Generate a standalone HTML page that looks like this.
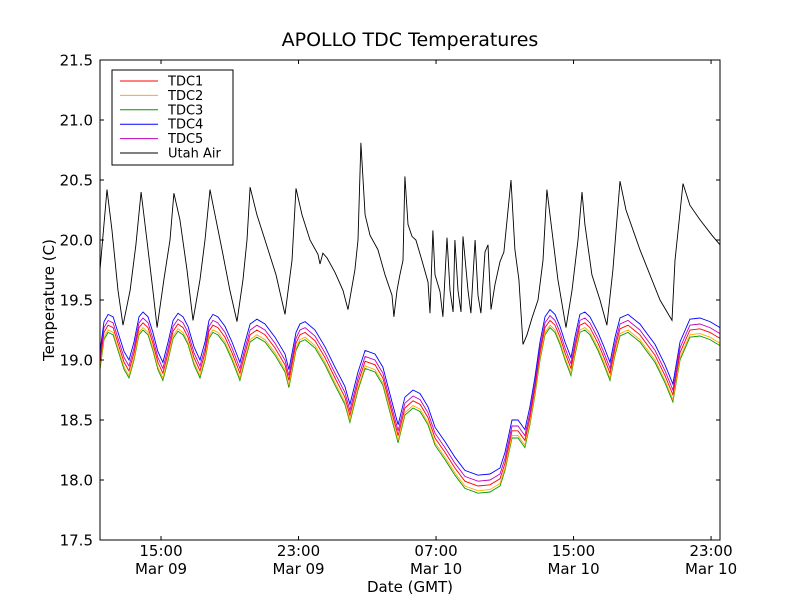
<!DOCTYPE html>
<html><head><meta charset="utf-8"><style>
body{margin:0;background:#fff}
svg text{font-family:"DejaVu Sans","Liberation Sans",sans-serif}
</style></head><body>
<svg id="chart" width="800" height="600" xmlns="http://www.w3.org/2000/svg">
<rect width="800" height="600" fill="#fff"/>
<text x="410" y="46" font-size="19" text-anchor="middle">APOLLO TDC Temperatures</text>
<g id="plot"></g>
<rect x="100" y="60" width="620" height="480" fill="none" stroke="#000" stroke-width="1"/>
<g id="axes"></g>
<text x="410" y="592" font-size="15" text-anchor="middle">Date (GMT)</text>
<text x="54" y="300" font-size="15" text-anchor="middle" transform="rotate(-90 54 300)">Temperature (C)</text>
<g id="legend"></g>
</svg>
<script>
const times=[0,.23,.47,.76,1.05,1.40,1.69,1.98,2.27,2.50,2.79,3.08,3.37,3.66,3.96,4.25,4.54,4.83,5.12,5.47,5.82,6.11,6.34,6.57,6.86,7.27,7.68,8.14,8.44,8.73,9.13,9.60,10.18,10.76,10.99,11.40,11.63,11.93,12.51,13.09,13.67,14.25,14.54,15.01,15.42,16.00,16.46,16.99,17.34,17.74,18.21,18.62,19.08,19.49,20.07,20.65,21.23,21.99,22.69,23.27,23.56,23.97,24.32,24.72,25.01,25.31,25.60,25.89,26.18,26.47,26.76,27.05,27.40,27.63,27.92,28.21,28.50,28.97,29.32,29.67,29.96,30.25,30.72,31.41,32.29,32.87,33.33,33.74,34.32,34.90,35.49,36.07];
const tdc3=[18.92,19.17,19.23,19.21,19.08,18.92,18.85,19.00,19.21,19.25,19.21,19.08,18.92,18.83,19.00,19.18,19.24,19.21,19.13,18.96,18.85,19.00,19.18,19.23,19.21,19.13,19.00,18.83,19.00,19.15,19.19,19.15,19.04,18.90,18.77,19.08,19.15,19.17,19.10,18.96,18.79,18.63,18.48,18.75,18.93,18.90,18.79,18.50,18.31,18.54,18.60,18.57,18.46,18.29,18.17,18.04,17.93,17.89,17.90,17.95,18.08,18.35,18.35,18.27,18.46,18.71,19.00,19.21,19.27,19.23,19.13,19.00,18.87,19.04,19.23,19.25,19.21,19.08,18.96,18.83,19.04,19.20,19.23,19.15,18.98,18.81,18.65,19.00,19.19,19.20,19.17,19.12];
const tdc2=[18.94,19.19,19.25,19.23,19.10,18.94,18.87,19.02,19.23,19.27,19.23,19.10,18.94,18.85,19.02,19.20,19.26,19.23,19.15,18.98,18.87,19.02,19.20,19.25,19.23,19.15,19.02,18.85,19.02,19.17,19.21,19.17,19.06,18.92,18.79,19.10,19.17,19.19,19.12,18.98,18.81,18.65,18.50,18.77,18.95,18.92,18.81,18.52,18.33,18.56,18.62,18.59,18.48,18.31,18.19,18.06,17.95,17.91,17.92,17.97,18.10,18.37,18.37,18.29,18.48,18.73,19.02,19.23,19.29,19.25,19.15,19.02,18.89,19.06,19.25,19.27,19.23,19.10,18.98,18.85,19.06,19.22,19.25,19.17,19.00,18.83,18.67,19.02,19.21,19.22,19.19,19.14];
const tdc1=[18.98,19.23,19.29,19.27,19.14,18.98,18.91,19.06,19.27,19.31,19.27,19.14,18.98,18.89,19.06,19.24,19.30,19.27,19.19,19.02,18.91,19.06,19.24,19.29,19.27,19.19,19.06,18.89,19.06,19.21,19.25,19.21,19.10,18.96,18.83,19.14,19.21,19.23,19.16,19.02,18.85,18.69,18.54,18.81,18.99,18.96,18.85,18.56,18.37,18.60,18.66,18.63,18.52,18.35,18.23,18.10,17.99,17.95,17.96,18.01,18.14,18.41,18.41,18.33,18.52,18.77,19.06,19.27,19.33,19.29,19.19,19.06,18.93,19.10,19.29,19.31,19.27,19.14,19.02,18.89,19.10,19.26,19.29,19.21,19.04,18.87,18.71,19.06,19.25,19.26,19.23,19.18];
const tdc5=[19.02,19.27,19.33,19.31,19.18,19.02,18.95,19.10,19.31,19.35,19.31,19.18,19.02,18.93,19.10,19.28,19.34,19.31,19.23,19.06,18.95,19.10,19.28,19.33,19.31,19.23,19.10,18.93,19.10,19.25,19.29,19.25,19.14,19.00,18.87,19.18,19.25,19.27,19.20,19.06,18.89,18.73,18.58,18.85,19.03,19.00,18.89,18.60,18.41,18.64,18.70,18.67,18.56,18.39,18.27,18.14,18.03,17.99,18.00,18.05,18.18,18.45,18.45,18.37,18.56,18.81,19.10,19.31,19.37,19.33,19.23,19.10,18.97,19.14,19.33,19.35,19.31,19.18,19.06,18.93,19.14,19.30,19.33,19.25,19.08,18.91,18.75,19.10,19.29,19.30,19.27,19.22];
const tdc4=[19.07,19.32,19.38,19.36,19.23,19.07,19.00,19.15,19.36,19.40,19.36,19.23,19.07,18.98,19.15,19.33,19.39,19.36,19.28,19.11,19.00,19.15,19.33,19.38,19.36,19.28,19.15,18.98,19.15,19.30,19.34,19.30,19.19,19.05,18.92,19.23,19.30,19.32,19.25,19.11,18.94,18.78,18.63,18.90,19.08,19.05,18.94,18.65,18.46,18.69,18.75,18.72,18.61,18.44,18.32,18.19,18.08,18.04,18.05,18.10,18.23,18.50,18.50,18.42,18.61,18.86,19.15,19.36,19.42,19.38,19.28,19.15,19.02,19.19,19.38,19.40,19.36,19.23,19.11,18.98,19.19,19.35,19.38,19.30,19.13,18.96,18.80,19.15,19.34,19.35,19.32,19.27];
const airTimes=[0,.41,.70,1.05,1.34,1.75,2.09,2.39,2.73,3.08,3.32,3.72,4.07,4.30,4.65,5.06,5.41,5.82,6.11,6.40,6.69,7.10,7.56,7.97,8.32,8.55,8.73,9.13,9.60,10.24,10.76,11.17,11.40,11.75,12.22,12.68,12.80,12.97,13.21,13.67,14.14,14.43,14.83,15.01,15.18,15.42,15.71,16.17,16.58,16.99,17.10,17.28,17.45,17.63,17.74,17.92,18.15,18.38,18.73,19.08,19.20,19.37,19.49,19.78,19.95,20.19,20.36,20.54,20.65,20.83,21.00,21.12,21.41,21.58,21.82,21.99,22.16,22.40,22.57,22.75,22.98,23.27,23.50,23.91,24.14,24.37,24.61,24.84,25.13,25.48,25.77,26.00,26.29,26.64,27.11,27.46,27.81,28.04,28.21,28.62,29.09,29.49,29.84,30.25,30.60,31.41,32.58,33.28,33.45,33.92,34.32,34.90,35.60,36.07];
const utahAir=[19.75,20.42,20.08,19.58,19.29,19.58,19.96,20.40,20.00,19.58,19.27,19.67,20.00,20.39,20.17,19.75,19.33,19.67,20.00,20.42,20.21,19.92,19.58,19.32,19.67,20.00,20.44,20.21,20.00,19.71,19.38,19.83,20.43,20.21,20.00,19.88,19.80,19.89,19.85,19.73,19.58,19.42,19.75,20.00,20.81,20.21,20.04,19.92,19.71,19.54,19.36,19.58,19.71,19.83,20.53,20.13,20.03,20.00,19.83,19.65,19.39,20.08,19.71,19.57,19.36,20.02,19.58,19.40,20.00,19.58,19.40,20.03,19.58,19.39,20.00,19.54,19.39,19.90,19.96,19.42,19.63,19.82,19.90,20.50,19.92,19.67,19.13,19.21,19.35,19.50,19.83,20.42,20.08,19.67,19.27,19.58,20.00,20.40,20.13,19.71,19.50,19.29,19.75,20.49,20.25,19.92,19.50,19.33,19.83,20.47,20.29,20.17,20.04,19.96];
const yTicks=[17.5,18.0,18.5,19.0,19.5,20.0,20.5,21.0,21.5];
const xTickTimes=[3.55,11.55,19.55,27.55,35.55];
const xTickHours=["15:00","23:00","07:00","15:00","23:00"];
const xTickDates=["Mar 09","Mar 09","Mar 10","Mar 10","Mar 10"];
const seriesNames=["TDC1","TDC2","TDC3","TDC4","TDC5","Utah Air"];
const seriesColors=["#ff0000","#ffaa00","#009900","#0000ff","#bf00bf","#000000"];
const X0=100,X1=720,Y0=540,Y1=60,TMIN=0,TMAX=36.07,VMIN=17.5,VMAX=21.5;
function sx(t){return X0+(t-TMIN)/(TMAX-TMIN)*(X1-X0);}
function sy(v){return Y0-(v-VMIN)/(VMAX-VMIN)*(Y0-Y1);}
const NS="http://www.w3.org/2000/svg";
function mk(tag,attrs,parent){const e=document.createElementNS(NS,tag);for(const k in attrs)e.setAttribute(k,attrs[k]);parent.appendChild(e);return e;}
const plot=document.getElementById('plot'),axes=document.getElementById('axes'),legend=document.getElementById('legend');
const all=[[times,tdc3,2,'tdc3-line'],[times,tdc2,1,'tdc2-line'],[times,tdc1,0,'tdc1-line'],[times,tdc5,4,'tdc5-line'],[times,tdc4,3,'tdc4-line'],[airTimes,utahAir,5,'utah-air-line']];
all.forEach(s=>{
  const d=s[0].map((t,i)=>(i?'L':'M')+sx(t).toFixed(1)+','+sy(s[1][i]).toFixed(1)).join('');
  const p=mk('path',{d:d,fill:'none',stroke:seriesColors[s[2]],'stroke-width':0.9},plot);
  
  
});
yTicks.forEach(v=>{
  const y=sy(v);
  mk('line',{x1:X0,x2:X0+4,y1:y,y2:y,stroke:'#000'},axes);
  mk('line',{x1:X1-4,x2:X1,y1:y,y2:y,stroke:'#000'},axes);
  const t=mk('text',{x:X0-7,y:y+5.5,'font-size':15,'text-anchor':'end'},axes);
  t.textContent=v.toFixed(1);
  
  
});
xTickTimes.forEach((tt,i)=>{
  const x=sx(tt);
  mk('line',{x1:x,x2:x,y1:Y0,y2:Y0-4,stroke:'#000'},axes);
  mk('line',{x1:x,x2:x,y1:Y1,y2:Y1+4,stroke:'#000'},axes);
  const t=mk('text',{x:x,y:556,'font-size':15,'text-anchor':'middle'},axes);
  t.textContent=xTickHours[i];
  
  
  const t2=mk('text',{x:x,y:574,'font-size':15,'text-anchor':'middle'},axes);
  t2.textContent=xTickDates[i];
  
  
});
const box=mk('rect',{x:112,y:70,width:121,height:95,fill:'#fff',stroke:'#000'},legend);


seriesNames.forEach((n,i)=>{
  const y=81+i*14.4;
  const g=mk('g',{},legend);
  
  
  mk('line',{x1:120,x2:158,y1:y,y2:y,stroke:seriesColors[i],'stroke-width':1},g);
  const t=mk('text',{x:168,y:y+4.5,'font-size':13},g);
  t.textContent=n;
});
</script>
</body></html>
